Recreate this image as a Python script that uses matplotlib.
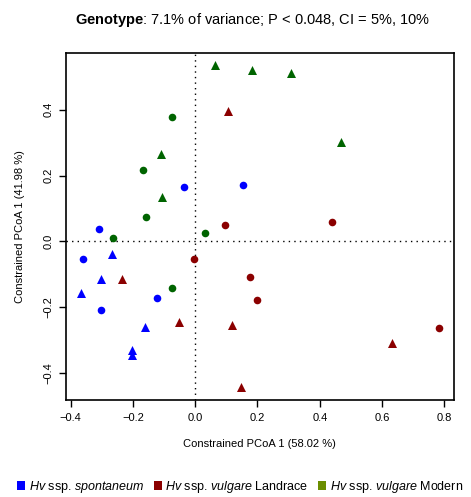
import matplotlib

matplotlib.use("Agg")
import matplotlib.pyplot as plt
from matplotlib.patches import Patch

plt.rcParams["font.family"] = ["Liberation Sans", "DejaVu Sans"]
plt.rcParams["mathtext.fontset"] = "custom"
plt.rcParams["mathtext.rm"] = "Liberation Sans"
plt.rcParams["mathtext.it"] = "Liberation Sans:italic"
plt.rcParams["mathtext.bf"] = "Liberation Sans:bold"

# spontaneum
spont_circ_x = [-0.036, 0.153, -0.308, -0.360, -0.304, -0.122]
spont_circ_y = [0.166, 0.171, 0.037, -0.055, -0.209, -0.173]
spont_tri_x = [-0.268, -0.304, -0.368, -0.160, -0.202, -0.204]
spont_tri_y = [-0.039, -0.116, -0.158, -0.260, -0.331, -0.346]

# vulgare landrace
land_circ_x = [0.096, 0.438, -0.003, 0.176, 0.199, 0.783]
land_circ_y = [0.048, 0.058, -0.055, -0.108, -0.179, -0.263]
land_tri_x = [0.106, -0.234, -0.053, 0.119, 0.147, 0.631]
land_tri_y = [0.395, -0.116, -0.245, -0.255, -0.443, -0.311]

# vulgare modern
mod_circ_x = [-0.076, -0.169, -0.158, 0.031, -0.263, -0.073]
mod_circ_y = [0.379, 0.217, 0.075, 0.024, 0.011, -0.141]
mod_tri_x = [0.065, 0.183, 0.306, 0.467, -0.110, -0.106]
mod_tri_y = [0.537, 0.521, 0.513, 0.303, 0.266, 0.134]

x_ticks = [-0.4, -0.2, 0.0, 0.2, 0.4, 0.6, 0.8]
y_ticks = [-0.4, -0.2, 0.0, 0.2, 0.4]

groups = [
    (spont_circ_x, spont_circ_y, spont_tri_x, spont_tri_y, "#0000FF"),
    (land_circ_x, land_circ_y, land_tri_x, land_tri_y, "#8B0000"),
    (mod_circ_x, mod_circ_y, mod_tri_x, mod_tri_y, "#006400"),
]
legend_labels = [
    r"$\mathit{Hv}$ ssp. $\mathit{spontaneum}$",
    r"$\mathit{Hv}$ ssp. $\mathit{vulgare}$ Landrace",
    r"$\mathit{Hv}$ ssp. $\mathit{vulgare}$ Modern",
]
legend_colors = ["#0000FF", "#8B0000", "#6B8E00"]

fig = plt.figure(figsize=(4.71, 4.97), dpi=100)
ax = fig.add_axes([0.140, 0.1946, 0.823, 0.6982])

for cx, cy, tx, ty, col in groups:
    ax.scatter(cx, cy, marker="o", s=30, color=col, linewidths=0, zorder=3)
    ax.scatter(tx, ty, marker="^", s=42, color=col, linewidths=0, zorder=3)

ax.axhline(0, color="black", linestyle=(0, (1, 3)), linewidth=1.0)
ax.axvline(0, color="black", linestyle=(0, (1, 3)), linewidth=1.0)

ax.set_xlim(-0.415, 0.8295)
ax.set_ylim(-0.484, 0.572)
ax.set_xticks(x_ticks)
ax.set_yticks(y_ticks)
ax.set_xticklabels([f"{v:.1f}".replace("-", "\u2212") for v in x_ticks], fontsize=8)
ax.set_yticklabels([f"{v:.1f}".replace("-", "\u2212") for v in y_ticks], fontsize=8,
                   rotation=90, va="center")
ax.tick_params(direction="out", length=5, width=1, pad=4)
for sp in ax.spines.values():
    sp.set_linewidth(1.2)

ax.set_xlabel("Constrained PCoA 1 (58.02 %)", fontsize=8, labelpad=12)
ax.set_ylabel("Constrained PCoA 1 (41.98 %)", fontsize=8, labelpad=13)

fig.text(0.537, 0.960, r"$\mathbf{Genotype}$: 7.1% of variance; P < 0.048, CI = 5%, 10%",
         ha="center", va="center", fontsize=10.5)

handles = [Patch(facecolor=c, edgecolor="none") for c in legend_colors]
fig.legend(handles, legend_labels, loc="center", bbox_to_anchor=(0.51, 0.02), ncol=3,
           frameon=False, fontsize=9, handlelength=0.6, handleheight=0.65,
           handletextpad=0.3, columnspacing=0.8, borderaxespad=0)

fig.savefig("out.png", dpi=100)
